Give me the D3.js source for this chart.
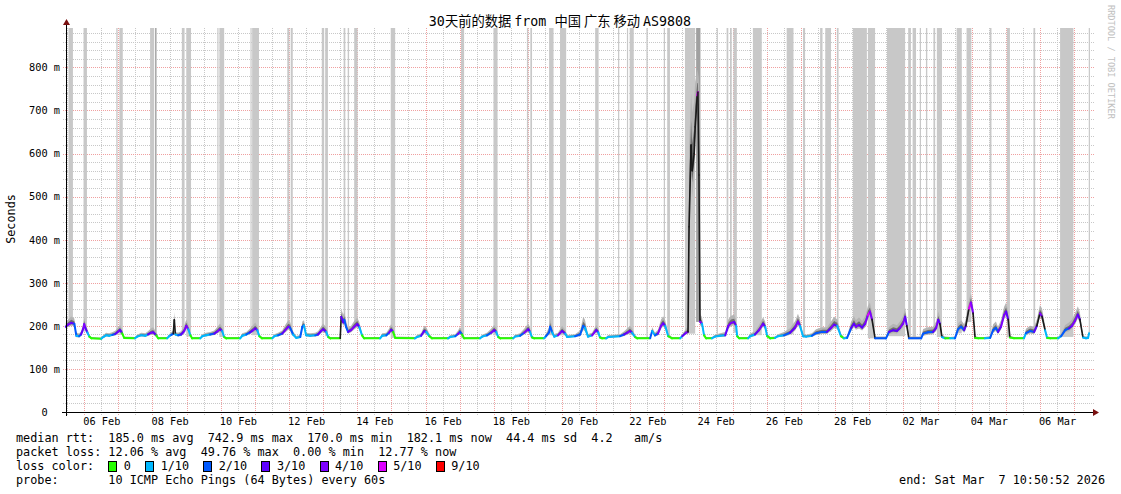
<!DOCTYPE html>
<html>
<head>
<meta charset="utf-8">
<script src="https://cdn.jsdelivr.net/npm/d3@7"></script>
<style>
  body { margin: 0; background: #fff; }
  text { font-family: "DejaVu Sans Mono", monospace; white-space: pre; }
</style>
</head>
<body>
<svg id="chart" width="1121" height="494"></svg>
<script>
// time is given as days after 1 Feb 2026 00:00 (local)
const startDay = 4.452, endDay = 34.452;
const yMaxMs = 891.5;

const sampleDay = [
  4.46,4.53,4.62,4.71,4.77,4.85,4.91,4.97,5.00,5.03,5.09,5.15,5.21,5.50,
  5.56,5.64,5.73,5.82,5.91,6.00,6.05,6.11,6.17,6.49,
  6.55,6.67,6.79,6.87,6.96,7.02,7.11,7.17,7.43,
  7.49,7.55,7.61,7.64,7.67,7.75,7.84,7.93,7.99,8.05,8.11,8.16,8.40,
  8.46,8.57,8.69,8.81,8.90,8.98,9.04,9.10,9.16,9.57,
  9.63,9.75,9.86,9.95,10.01,10.07,10.13,10.21,10.51,
  10.57,10.68,10.80,10.89,10.98,11.03,11.12,11.21,11.33,11.39,11.44,11.50,11.62,11.77,
  11.85,11.94,12.00,12.09,12.15,12.21,12.50,
  12.53,12.59,12.62,12.67,12.73,12.82,12.91,13.00,13.06,13.14,13.20,13.67,
  13.73,13.85,13.93,13.99,14.05,14.11,14.69,
  14.75,14.87,14.96,15.02,15.11,15.19,15.66,
  15.72,15.87,15.95,16.01,16.07,16.13,16.60,
  16.66,16.80,16.92,17.01,17.07,17.13,17.19,17.57,
  17.62,17.77,17.89,18.01,18.06,18.12,18.18,18.47,
  18.53,18.62,18.65,18.71,18.77,18.88,19.00,19.09,19.15,19.38,
  19.53,19.62,19.67,19.76,19.88,20.00,20.06,20.11,20.17,20.29,20.35,20.70,
  20.82,20.93,20.99,21.05,21.14,21.20,21.58,
  21.64,21.72,21.81,21.90,21.96,22.02,22.11,22.22,22.46,22.52,22.63,22.69,
  22.72,22.78,22.81,22.87,22.90,22.96,22.98,23.01,23.04,23.10,23.16,23.22,23.39,
  23.48,23.63,23.78,23.87,23.95,24.04,24.10,24.13,24.19,24.45,
  24.51,24.65,24.77,24.89,24.95,25.01,25.10,25.24,
  25.33,25.50,25.68,25.83,25.91,25.97,26.06,26.15,26.32,
  26.44,26.62,26.76,26.88,26.97,27.06,27.17,27.26,27.35,
  27.47,27.55,27.61,27.70,27.79,27.88,27.96,28.02,28.08,28.17,28.49,
  28.58,28.70,28.81,28.90,28.99,29.05,29.10,29.16,29.52,
  29.58,29.72,29.87,29.96,30.02,30.07,30.13,30.22,30.37,30.51,
  30.60,30.69,30.78,30.83,30.92,30.98,31.04,31.10,31.19,31.39,31.54,
  31.63,31.71,31.77,31.86,31.95,32.01,32.07,32.12,32.24,32.53,
  32.59,32.71,32.83,32.91,33.00,33.06,33.15,33.21,33.30,33.53,
  33.62,33.74,33.85,33.94,34.03,34.11,34.17,34.26,34.35,34.41,34.44
];

const medianMs = [
  198,203,207,205,177,176,180,193,204,196,185,175,171,170,
  174,178,177,179,181,187,190,183,172,171,
  175,178,177,180,184,185,178,171,171,
  176,179,182,214,180,178,180,188,200,192,178,171,171,
  176,178,180,182,187,192,188,174,171,171,
  177,180,185,190,194,190,176,171,171,
  176,178,182,190,198,196,180,172,174,198,201,178,177,178,
  180,188,192,186,174,171,171,
  221,208,214,198,186,190,198,204,197,178,171,171,
  177,178,184,191,186,172,171,
  174,177,188,186,176,171,171,
  174,176,181,186,180,171,171,
  175,178,184,190,186,174,171,171,
  175,177,184,192,186,173,171,171,
  176,185,198,185,175,178,188,182,174,176,
  180,200,196,175,178,190,185,173,171,171,174,176,
  180,185,188,184,174,171,171,
  188,178,182,200,206,200,176,171,171,176,184,186,
  430,620,560,600,662,735,743,550,210,205,178,171,171,
  175,177,178,200,207,209,200,176,171,171,
  176,180,190,205,198,176,171,172,
  176,178,184,196,210,200,176,175,177,
  183,186,186,195,203,200,176,171,172,
  195,205,198,202,196,205,225,233,215,171,171,
  186,190,188,195,205,221,200,171,171,
  182,185,186,195,214,205,174,171,171,171,
  192,198,190,200,240,254,230,172,171,171,172,
  190,195,186,198,225,233,215,173,171,171,
  183,188,186,200,229,222,190,172,171,171,
  176,190,194,200,212,226,215,173,171,172,183
];

const lossTenths = [
  2,3,4,3,2,1,2,3,4,4,3,1,0,0,
  1,1,1,1,2,3,4,3,0,0,
  1,1,1,1,3,4,3,0,0,
  1,1,2,2,1,1,2,3,4,4,1,0,0,
  1,1,1,2,3,4,3,1,0,0,
  1,1,2,3,4,3,1,0,0,
  1,1,2,3,4,4,2,1,1,2,2,1,1,1,
  2,3,4,3,1,0,0,
  3,3,3,2,2,3,4,4,3,1,0,0,
  1,1,2,4,3,0,0,
  1,1,3,3,1,0,0,
  1,1,2,4,2,0,0,
  1,1,2,4,3,1,0,0,
  1,1,2,4,3,1,0,0,
  1,2,2,2,1,1,4,3,1,1,
  2,2,2,1,1,4,3,1,0,0,1,1,
  2,3,4,3,1,0,0,
  2,1,2,4,4,3,1,0,0,1,3,4,
  3,4,5,4,4,5,5,5,4,4,1,0,0,
  1,1,1,3,4,4,3,1,0,0,
  1,1,3,4,3,1,0,0,
  1,1,2,3,4,4,1,1,1,
  2,2,2,3,4,3,1,0,1,
  2,3,3,4,3,3,4,5,4,2,2,
  2,3,3,3,4,4,3,2,2,
  2,2,2,3,4,3,1,1,0,1,
  2,2,2,3,4,5,4,1,0,0,1,
  2,2,2,3,4,4,3,1,0,0,
  1,2,2,3,4,4,3,1,0,0,
  1,2,2,3,4,4,3,1,1,1,1
];

// spread of the ten pings around the median (ms)
const smokeMs = [
  6,8,10,8,5,4,5,8,10,8,6,3,2,2,
  3,4,4,4,5,7,8,6,2,2,
  3,4,4,5,7,8,5,2,2,
  3,4,5,12,4,4,5,8,10,8,4,2,2,
  3,4,4,5,7,9,7,3,2,2,
  4,4,6,8,9,7,3,2,2,
  3,4,5,8,10,9,5,3,3,8,8,4,4,4,
  5,7,9,7,3,2,2,
  12,12,12,10,6,7,9,10,8,4,2,2,
  4,4,6,9,7,2,2,
  3,4,8,7,4,2,2,
  3,3,5,8,5,2,2,
  3,4,6,8,7,3,2,2,
  3,4,6,9,7,3,2,2,
  4,8,12,8,4,4,8,6,3,3,
  6,14,12,4,4,8,7,3,2,2,3,3,
  5,7,8,7,3,2,2,
  6,4,6,10,11,9,4,2,2,3,6,7,
  120,80,90,80,70,40,30,150,12,10,4,2,2,
  3,4,5,10,11,11,9,4,2,2,
  4,5,8,10,8,4,2,2,
  3,5,7,10,12,10,4,3,4,
  6,7,7,10,12,10,4,2,3,
  10,12,10,12,10,12,14,14,12,3,3,
  8,10,9,10,12,14,10,3,3,
  7,8,8,10,13,11,4,3,2,3,
  9,10,9,11,14,14,12,3,2,2,3,
  9,10,8,10,13,14,12,3,2,2,
  7,8,8,10,13,12,8,3,2,2,
  4,8,9,10,12,13,11,3,3,3,5
];

// periods where some pings went off the top of the graph
const offScaleStart = [4.54,4.98,5.94,6.03,6.93,7.08,7.86,7.99,8.90,8.96,9.87,9.92,10.95,11.05,11.96,12.06,
  12.60,12.72,12.91,13.98,16.04,16.99,17.97,18.07,18.62,18.94,19.97,20.64,20.90,20.98,21.47,21.98,22.08,
  22.60,22.93,23.53,23.82,23.92,24.02,24.59,25.58,26.06,26.56,26.71,27.05,27.52,27.96,28.52,29.14,29.27,
  29.48,29.66,29.88,29.98,30.56,30.85,31.53,32.03,32.81,33.59,34.43];
const offScaleEnd = [4.67,5.08,5.98,6.13,7.05,7.11,7.94,8.13,8.93,9.10,9.89,10.12,11.01,11.11,12.03,12.14,
  12.65,12.76,13.01,14.11,16.13,17.11,18.01,18.12,18.75,19.12,20.07,20.67,20.93,21.10,21.51,22.01,22.16,
  22.90,23.05,23.56,23.87,23.97,24.12,24.85,25.78,26.12,26.63,26.88,27.10,27.93,28.17,29.05,29.22,29.37,
  29.51,29.70,29.93,30.13,30.71,30.99,31.58,32.12,32.86,33.98,34.45];
const denseStart = [7.08, 22.93];
const denseEnd = [7.11, 23.05];

const lossLevels = [0, 1, 2, 3, 4, 5, 9];
const lossLabels = ["0", "1/10", "2/10", "3/10", "4/10", "5/10", "9/10"];
const lossColors = ["#26ff00", "#00b8ff", "#0059ff", "#5e00ff", "#7e00ff", "#dd00ff", "#ff0000"];

const yTicks = [0, 100, 200, 300, 400, 500, 600, 700, 800];
const titleParts = [["30", "mono"], ["天前的数据 ", "cjk"], ["from ", "mono"], ["中国 广东 移动 ", "cjk"], ["AS9808", "mono"]];
const statsLines = [
  "median rtt:  185.0 ms avg  742.9 ms max  170.0 ms min  182.1 ms now  44.4 ms sd  4.2   am/s",
  "packet loss: 12.06 % avg  49.76 % max  0.00 % min  12.77 % now"
];
const probeText = "probe:       10 ICMP Echo Pings (64 Bytes) every 60s";
const endText = "end: Sat Mar  7 10:50:52 2026";

const monthStart = new Date(2026, 1, 1).getTime();
const toDate = d => new Date(monthStart + d * 864e5);

const svg = d3.select("#chart");
const plotL = 65.5, plotR = 1089.5, plotB = 412, plotT = 28;

const x = d3.scaleTime().domain([toDate(startDay), toDate(endDay)]).range([plotL, plotR]);
const y = d3.scaleLinear().domain([0, yMaxMs]).range([plotB, plotT]);
const color = d3.scaleOrdinal(lossLevels, lossColors);

svg.append("rect").attr("width", 1121).attr("height", 494).attr("fill", "#fff");

// grid
const grid = svg.append("g").attr("shape-rendering", "crispEdges");
const hours = d3.timeHour.every(12).range(toDate(startDay), toDate(endDay));
grid.selectAll(".vg").data(hours).join("line")
  .attr("x1", d => Math.round(x(d)) + 0.5).attr("x2", d => Math.round(x(d)) + 0.5)
  .attr("y1", plotB + 3).attr("y2", plotT)
  .attr("stroke", d => d.getHours() === 0 ? "#f0a0a0" : "#c8c8c8")
  .attr("stroke-dasharray", "1,1");
const yGrid = d3.range(20, yMaxMs, 20);
grid.selectAll(".hg").data(yGrid).join("line")
  .attr("x1", plotL - 3).attr("x2", plotR + 4)
  .attr("y1", d => Math.round(y(d)) + 0.5).attr("y2", d => Math.round(y(d)) + 0.5)
  .attr("stroke", d => d % 100 === 0 ? "#f0a0a0" : "#c8c8c8")
  .attr("stroke-dasharray", "1,1");

// median interpolation used to find where off-scale columns start
function medianAt(d) {
  let i = Math.max(1, Math.min(sampleDay.length - 1, d3.bisectLeft(sampleDay, d)));
  let t = Math.max(0, Math.min(1, (d - sampleDay[i - 1]) / (sampleDay[i] - sampleDay[i - 1])));
  return medianMs[i - 1] + (medianMs[i] - medianMs[i - 1]) * t;
}

const cols = offScaleStart.map((s, i) => ({s: s, e: offScaleEnd[i]}));
svg.append("g").selectAll("rect").data(cols).join("rect")
  .attr("x", d => x(toDate(d.s)))
  .attr("width", d => Math.max(1.2, x(toDate(d.e)) - x(toDate(d.s))))
  .attr("y", plotT)
  .attr("height", d => y(Math.min(medianAt(d.s), medianAt(d.e), medianAt((d.s + d.e) / 2))) - plotT)
  .attr("fill", "#c8c8c8");
const dense = denseStart.map((s, i) => ({s: s, e: denseEnd[i]}));
svg.append("g").selectAll("rect").data(dense).join("rect")
  .attr("x", d => x(toDate(d.s)))
  .attr("width", d => Math.max(1.2, x(toDate(d.e)) - x(toDate(d.s))))
  .attr("y", plotT)
  .attr("height", d => y(Math.min(medianAt(d.s), medianAt(d.e))) - plotT)
  .attr("fill", "#a0a0a0");

// smoke
const samples = sampleDay.map((d, i) => ({t: toDate(d), m: medianMs[i], l: lossTenths[i], s: smokeMs[i]}));
const outer = d3.area().x(d => x(d.t)).y0(d => y(d.m - d.s * 0.7)).y1(d => y(d.m + d.s * 1.5));
const inner = d3.area().x(d => x(d.t)).y0(d => y(d.m - d.s * 0.3)).y1(d => y(d.m + d.s * 0.7));
svg.append("path").datum(samples).attr("d", outer).attr("fill", "#b4b4b4");
svg.append("path").datum(samples).attr("d", inner).attr("fill", "#6e6e6e");

// median line coloured by loss; steep jumps show as dark smoke
const line = d3.line().x(d => x(d.t)).y(d => y(d.m));
const segs = d3.pairs(samples);
const steep = d => Math.abs(d[1].m - d[0].m) > 28;
svg.append("g").selectAll("path").data(segs).join("path")
  .attr("d", d => line(d))
  .attr("fill", "none")
  .attr("stroke", d => steep(d) ? "#1a1a1a" : color(d[1].l))
  .attr("stroke-width", d => steep(d) ? 1.6 : 2)
  .attr("stroke-linecap", "round");

// axes
const xLabels = d3.timeDay.range(toDate(startDay), toDate(endDay))
  .filter(d => d.getDate() % 2 === 0)
  .map(d => d3.timeHour.offset(d, 12));
const fmt = d3.timeFormat("%d %b");
const xAxis = svg.append("g").attr("transform", `translate(0,${plotB})`)
  .call(d3.axisBottom(x).tickValues(xLabels).tickFormat(fmt).tickSize(0).tickPadding(6));
xAxis.select(".domain").remove();
xAxis.selectAll("text").attr("font-family", "DejaVu Sans Mono").attr("font-size", "10.3px").attr("fill", "#000");

const yAxis = svg.append("g").attr("transform", `translate(60,0)`)
  .call(d3.axisLeft(y).tickValues(yTicks).tickFormat(d => d ? d + " m" : "0  ").tickSize(0).tickPadding(0));
yAxis.select(".domain").remove();
yAxis.selectAll("text").attr("font-family", "DejaVu Sans Mono").attr("font-size", "10.3px").attr("fill", "#000");

svg.append("line").attr("x1", 62).attr("x2", 1094).attr("y1", plotB + 0.5).attr("y2", plotB + 0.5)
  .attr("stroke", "#000").attr("shape-rendering", "crispEdges");
svg.append("line").attr("x1", 66.5).attr("x2", 66.5).attr("y1", plotB + 4).attr("y2", 24)
  .attr("stroke", "#000").attr("shape-rendering", "crispEdges");
svg.append("path").attr("d", `M1093,${plotB - 3} L1099,${plotB + 0.5} L1093,${plotB + 4} Z`).attr("fill", "#7a1010");
svg.append("path").attr("d", "M63,25 L66.5,19 L70,25 Z").attr("fill", "#7a1010");

// title
const title = svg.append("text").attr("x", 560).attr("y", 26).attr("text-anchor", "middle")
  .attr("font-size", "13.3px");
title.selectAll("tspan").data(titleParts).join("tspan")
  .attr("font-family", d => d[1] === "cjk" ? "Noto Sans CJK SC" : "DejaVu Sans Mono")
  .text(d => d[0]);

svg.append("text").attr("transform", "translate(15,219) rotate(-90)").attr("text-anchor", "middle")
  .attr("font-size", "11.8px").text("Seconds");

svg.append("text").attr("transform", "translate(1107.5,5) rotate(90)")
  .attr("font-size", "8.6px").attr("fill", "#c0c0c0").text("RRDTOOL / TOBI OETIKER");

// legend
const legend = svg.append("g").attr("font-size", "11.8px");
legend.selectAll(".stat").data(statsLines).join("text")
  .attr("x", 16).attr("y", (d, i) => 442 + i * 14).text(d => d);
legend.append("text").attr("x", 16).attr("y", 470).text("loss color:");
legend.append("text").attr("x", 16).attr("y", 484).text(probeText);
legend.append("text").attr("x", 1105).attr("y", 484).attr("text-anchor", "end").text(endText);

const probe = legend.append("text").attr("x", 0).attr("y", -20).text("0000000000");
const charW = probe.node().getComputedTextLength() / 10;
probe.remove();

let bx = 16 + 13 * charW;
const items = lossLabels.map((lab, i) => {
  const it = {box: bx, label: bx + 15.5, text: lab, c: lossColors[i]};
  bx = it.label + (lab.length + 2) * charW;
  return it;
});
legend.selectAll(".box").data(items).join("rect")
  .attr("x", d => Math.round(d.box) + 0.5).attr("y", 461.5).attr("width", 8).attr("height", 10)
  .attr("fill", d => d.c).attr("stroke", "#000");
legend.selectAll(".lab").data(items).join("text")
  .attr("x", d => d.label).attr("y", 470).text(d => d.text);
</script>
</body>
</html>
